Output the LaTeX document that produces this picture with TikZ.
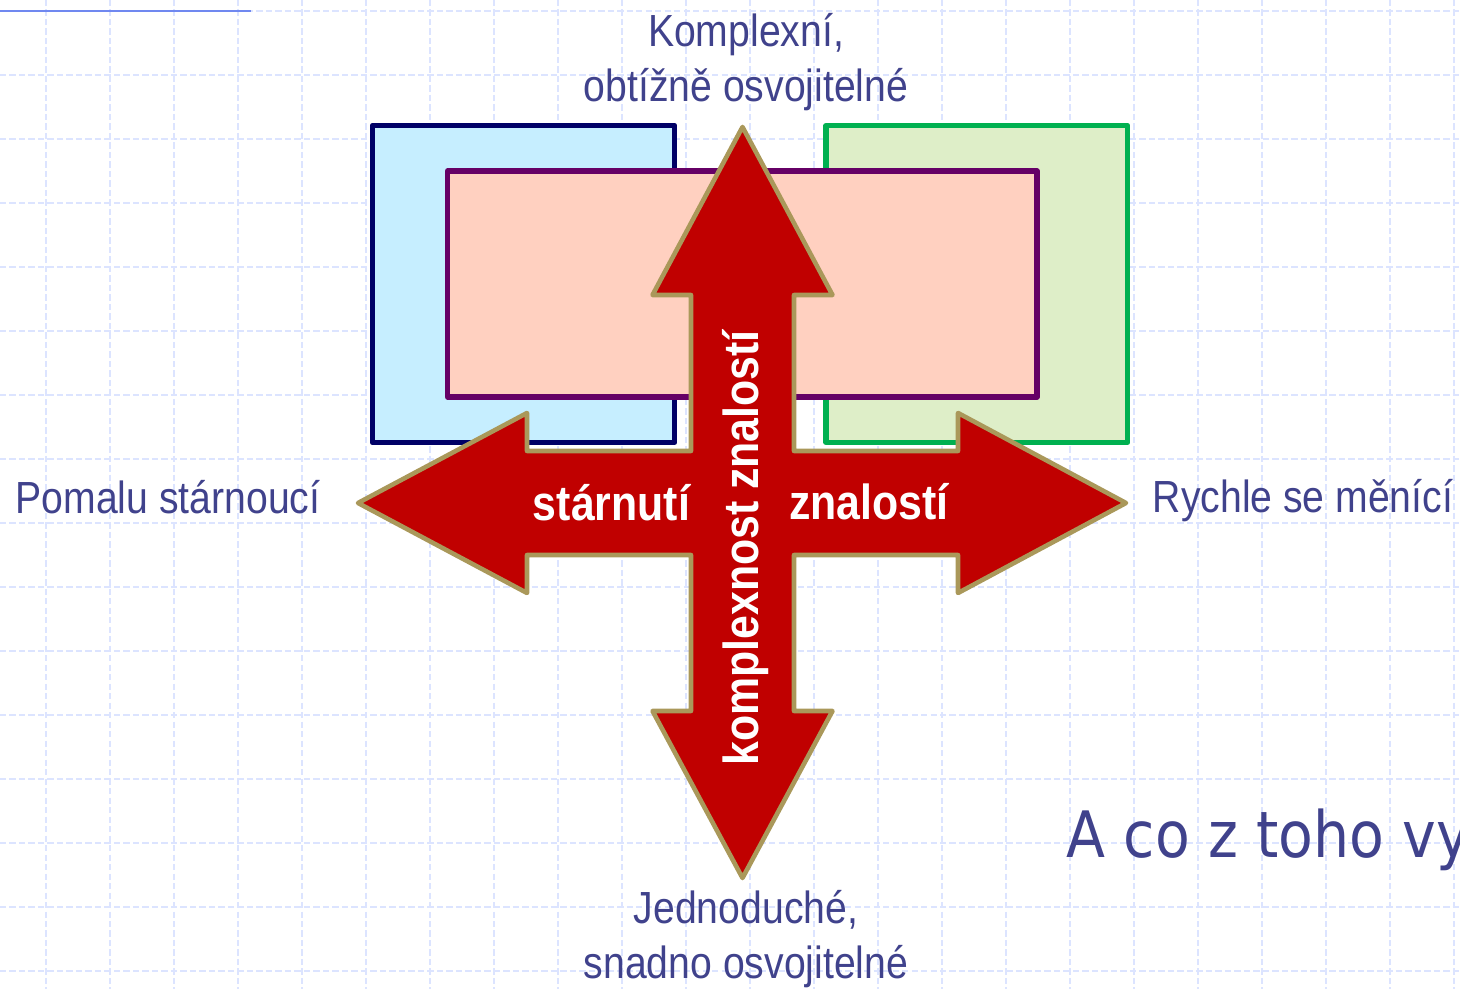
\documentclass[tikz,border=0pt]{standalone}
\usepackage{fontspec}
\setmainfont{Liberation Sans}
\newfontfamily\narrowfont[FakeStretch=0.87]{Liberation Sans}
\newfontfamily\slidefont[FakeStretch=0.89]{DejaVu Sans}
\usepackage{tikz}

\definecolor{labelblue}{RGB}{64,66,140}
\definecolor{gridblue}{RGB}{220,228,255}
\definecolor{topline}{RGB}{112,136,240}
\definecolor{boxnavy}{RGB}{0,0,102}
\definecolor{boxsky}{RGB}{198,238,255}
\definecolor{boxgreen}{RGB}{0,176,80}
\definecolor{boxmint}{RGB}{222,238,200}
\definecolor{boxplum}{RGB}{102,0,102}
\definecolor{boxpeach}{RGB}{255,208,192}
\definecolor{arrowred}{RGB}{192,0,0}
\definecolor{arrowkhaki}{RGB}{170,152,90}

\tikzset{
  gridline/.style={gridblue, line width=0.43pt, dash pattern=on 1.8pt off 0.9pt},
  knowbox/.style={line width=1.5pt, line join=round},
  sidelabel/.style={labelblue, inner sep=0pt, align=center,
    font=\narrowfont\fontsize{12.8}{15.85}\selectfont},
  arrowlabel/.style={white, inner sep=0pt,
    font=\narrowfont\bfseries\fontsize{14}{16}\selectfont}
}

\begin{document}
\begin{tikzpicture}[x=0.01cm, y=-0.01cm]
    \useasboundingbox (0,0) rectangle (1460,989);

    % Slide background: dashed grid & title rule
    \foreach \gx in {46,110,...,1454}
        \draw[gridline] (\gx,0) -- (\gx,989);
    \foreach \gy in {11,75,...,971}
        \draw[gridline] (0,\gy) -- (1460,\gy);
    \draw[topline, line width=0.6pt] (0,11) -- (251,11);

    % Boxes: slow, fast, middle
    \draw[knowbox, draw=boxnavy, fill=boxsky] (372.5,125.5) rectangle (674.5,442.5);
    \draw[knowbox, draw=boxgreen, fill=boxmint] (826,125.5) rectangle (1127.5,442.5);
    \draw[knowbox, draw=boxplum, fill=boxpeach] (447.5,171) rectangle (1037,397);

    % Cross of four arrows
    \draw[line width=1.3pt, line join=round, draw=arrowkhaki, fill=arrowred]
        (742.5,127) -- (832.5,295) -- (794,295) -- (794,451) -- (958,451)
        -- (958,413) -- (1126,503) -- (958,593) -- (958,555) -- (794,555)
        -- (794,711) -- (832.5,711) -- (742.5,878) -- (652.5,711) -- (691,711)
        -- (691,555) -- (527,555) -- (527,593) -- (358,503) -- (527,413)
        -- (527,451) -- (691,451) -- (691,295) -- (652.5,295) -- cycle;

    % Labels: arrow texts
    \node[arrowlabel, anchor=base] (aging) at (611.5,521) {stárnutí};
    \node[arrowlabel, anchor=base] (knowledge) at (869,520) {znalostí};
    \node[arrowlabel, anchor=base, rotate=90] (complexity) at (758,548) {komplexnost znalostí};

    % Labels: ends of the axes (base = last line)
    \node[sidelabel, anchor=base] (hard) at (746,102) {Komplexní,\\obtížně osvojitelné};
    \node[sidelabel, anchor=base] (easy) at (746,979) {Jednoduché,\\snadno osvojitelné};
    \node[sidelabel, anchor=base] (slow) at (168,514) {Pomalu stárnoucí};
    \node[sidelabel, anchor=base] (fast) at (1303,513) {Rychle se měnící};

    % Question at the slide edge
    \node[anchor=base west, inner sep=0pt, labelblue,
        font=\slidefont\fontsize{18.2}{22}\selectfont] (question) at (1066,858) {A co z toho vy};

\end{tikzpicture}
\end{document}
